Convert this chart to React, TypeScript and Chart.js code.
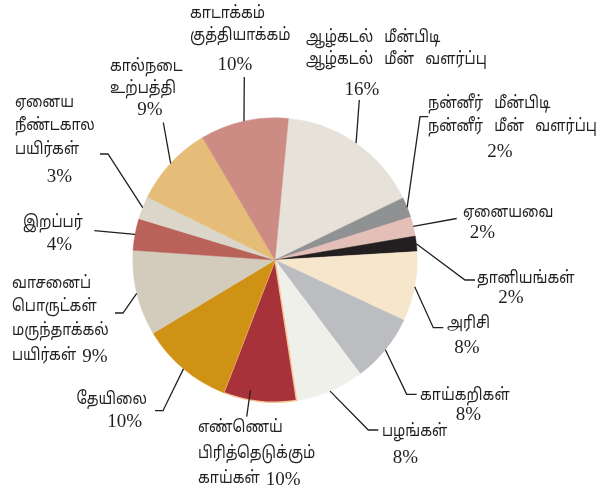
import React, { useEffect, useRef } from 'react';
import { Chart, ArcElement, PieController } from 'chart.js';

Chart.register(ArcElement, PieController);

// ---- data ----
const CATEGORIES: string[][] = [
  ['ஆழ்கடல்   மீன்பிடி', 'ஆழ்கடல்   மீன்   வளர்ப்பு'],
  ['நன்னீர்   மீன்பிடி', 'நன்னீர்   மீன்   வளர்ப்பு'],
  ['ஏனையவை'],
  ['தானியங்கள்'],
  ['அரிசி'],
  ['காய்கறிகள்'],
  ['பழங்கள்'],
  ['எண்ணெய்', 'பிரித்தெடுக்கும்', 'காய்கள்'],
  ['தேயிலை'],
  ['வாசனைப்', 'பொருட்கள்', 'மருந்தாக்கல்', 'பயிர்கள்'],
  ['இறப்பர்'],
  ['ஏனைய', 'நீண்டகால', 'பயிர்கள்'],
  ['கால்நடை', 'உற்பத்தி'],
  ['காடாக்கம்', 'குத்தியாக்கம்'],
];
const VALUES: number[] = [16.3, 2.3, 2.2, 1.75, 7.9, 7.8, 7.8, 8.3, 10.5, 9.7, 3.6, 2.6, 9.2, 10.0];
const PERCENT_LABELS: string[] = ['16%', '2%', '2%', '2%', '8%', '8%', '8%', '10%', '10%', '9%', '4%', '3%', '9%', '10%'];
const COLORS: string[] = [
  '#e6e1d9', '#909192', '#e3bfb7', '#231f20', '#f6e6cc', '#bcbdc0', '#f0f0ea',
  '#a8323a', '#d09215', '#d3ccbd', '#b9625a', '#dcd5c9', '#e5bd78', '#cd8c83',
];
const START_ROTATION = 5.4;

// ---- label layout (annotation placement) ----
type Layout = {
  x: number;
  ys: number[];
  pct: [number, number] | 'inline';
  leader: [number, number][];
  frac?: number;
  rf?: number;
  align?: CanvasTextAlign;
  pctAlign?: CanvasTextAlign;
};
const LAYOUT: Layout[] = [
  { x: 306, ys: [39, 61], pct: [362, 95], leader: [[359.3, 100]] },
  { x: 428, ys: [105, 127.5], pct: [500, 157], leader: [[420, 116.7], [428.3, 116.7]] },
  { x: 463, ys: [214], pct: [482.5, 238], leader: [[456.7, 218.5]] },
  { x: 477, ys: [280], pct: [511, 303], leader: [[465, 280], [475, 280]] },
  { x: 447, ys: [325], pct: [467, 353], leader: [[433.3, 327.7], [443.3, 327.7]] },
  { x: 420, ys: [396.5], pct: [468.5, 420], leader: [[406.7, 394.3], [416.7, 394.3]] },
  { x: 382, ys: [432.5], pct: [405.5, 463], leader: [[368.3, 430], [378.3, 430]] },
  { x: 198, ys: [428.5, 454.5, 479.5], pct: 'inline', leader: [[246.7, 416.7]], frac: 0.65, rf: 0.93 },
  { x: 147, ys: [400.5], pct: [142, 427], leader: [[163, 410.7], [155, 410.7]], align: 'right', pctAlign: 'right' },
  { x: 12, ys: [285, 307.5, 331.5, 356.5], pct: 'inline', leader: [[123, 313], [115, 313]] },
  { x: 23, ys: [223.5], pct: [59.5, 250], leader: [[94.3, 230.7]] },
  { x: 15, ys: [103.5, 126.5, 150.5], pct: [59.5, 182], leader: [[108, 154], [100, 154]] },
  { x: 110, ys: [67.5, 90], pct: [150, 115], leader: [[163.3, 122.5]] },
  { x: 190, ys: [14.5, 36.5], pct: [235, 70], leader: [[244.3, 77]] },
];

const TAMIL_FONT = '17px "Noto Sans Tamil", "Lohit Tamil", "Noto Serif Tamil", sans-serif';
const TAMIL_SX = 0.84;
const NUM_FONT = '19px "Liberation Serif", "DejaVu Serif", serif';
const INK = '#231f20';

function drawTamil(ctx: CanvasRenderingContext2D, t: string, x: number, y: number, align: CanvasTextAlign) {
  ctx.save();
  ctx.font = TAMIL_FONT;
  ctx.textBaseline = 'middle';
  ctx.textAlign = align;
  ctx.translate(x, y);
  ctx.scale(TAMIL_SX, 1);
  ctx.fillText(t, 0, 0);
  const w = ctx.measureText(t).width * TAMIL_SX;
  ctx.restore();
  return w;
}

const labelPlugin = {
  id: 'pieLabels',
  afterDatasetsDraw(chart: any) {
    const ctx: CanvasRenderingContext2D = chart.ctx;
    const meta = chart.getDatasetMeta(0);
    ctx.save();
    ctx.fillStyle = INK;
    ctx.strokeStyle = INK;
    ctx.lineWidth = 1.3;
    meta.data.forEach((arc: any, i: number) => {
      const L = LAYOUT[i];
      if (!L) return;
      const p = arc.getProps(['x', 'y', 'startAngle', 'endAngle', 'outerRadius'], true);
      const f = L.frac ?? 0.5;
      const a = p.startAngle + (p.endAngle - p.startAngle) * f;
      const r = p.outerRadius * (L.rf ?? 1);
      ctx.beginPath();
      ctx.moveTo(p.x + Math.cos(a) * r, p.y + Math.sin(a) * r);
      L.leader.forEach(([lx, ly]) => ctx.lineTo(lx, ly));
      ctx.stroke();

      const lines = CATEGORIES[i];
      const align = L.align ?? 'left';
      lines.forEach((t, k) => {
        const w = drawTamil(ctx, t, L.x, L.ys[k], align);
        if (L.pct === 'inline' && k === lines.length - 1) {
          ctx.font = NUM_FONT;
          ctx.textAlign = 'left';
          ctx.textBaseline = 'alphabetic';
          ctx.fillText(PERCENT_LABELS[i], L.x + w + 6, L.ys[k] + 5.5);
        }
      });
      if (L.pct !== 'inline') {
        ctx.font = NUM_FONT;
        ctx.textBaseline = 'alphabetic';
        ctx.textAlign = L.pctAlign ?? 'center';
        ctx.fillText(PERCENT_LABELS[i], L.pct[0], L.pct[1]);
      }
    });
    ctx.restore();
  },
};

export default function App() {
  const ref = useRef<HTMLCanvasElement | null>(null);
  useEffect(() => {
    if (!ref.current) return;
    const borderColors = COLORS.map((c, i) => (i === 7 ? '#f6c394' : c));
    const chart = new Chart(ref.current, {
      type: 'pie',
      data: {
        labels: CATEGORIES.map((c) => c.join(' ')),
        datasets: [
          {
            data: VALUES,
            backgroundColor: COLORS,
            borderColor: borderColors,
            borderWidth: COLORS.map((_, i) => (i === 7 ? 1.5 : 0.5)),
          },
        ],
      },
      options: {
        responsive: false,
        animation: false,
        rotation: START_ROTATION,
        layout: { padding: { left: 132, top: 117, right: 181, bottom: 88 } },
        plugins: { legend: { display: false }, tooltip: { enabled: false } },
      },
      plugins: [labelPlugin],
    });
    return () => chart.destroy();
  }, []);
  return (
    <div style={{ position: 'absolute', left: 0, top: 0, width: 599, height: 491, background: '#fff' }}>
      <canvas ref={ref} width={599} height={491} style={{ width: 599, height: 491 }} />
    </div>
  );
}
